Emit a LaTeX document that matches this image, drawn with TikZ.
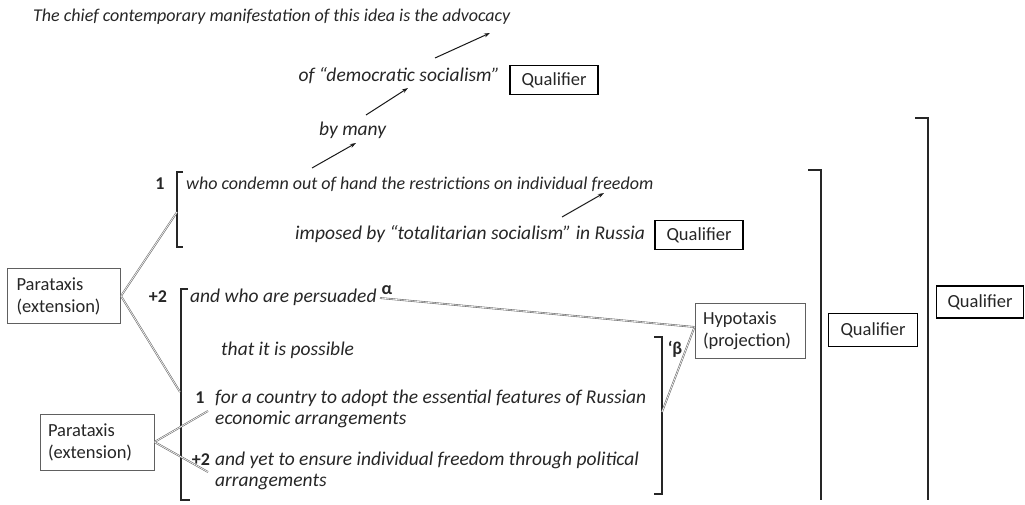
\documentclass[tikz,border=0pt]{standalone}
\usepackage{fontspec}
\setmainfont{Carlito}
\usetikzlibrary{arrows.meta}
\begin{document}
\begin{tikzpicture}[x=1pt,y=-1pt,
  txt/.style={font=\fontsize{19.5}{22}\selectfont\itshape, inner sep=0pt, anchor=west, text=black!85},
  txts/.style={txt, font=\fontsize{18}{21}\selectfont\itshape},
  num/.style={font=\fontsize{18}{21}\selectfont\bfseries, inner sep=0pt, text=black!85},
  qual/.style={draw=black, line width=1.1pt, font=\fontsize{18.5}{21}\selectfont, text=black!85, inner sep=0pt, minimum width=88pt, minimum height=29pt},
  taxis/.style={draw=gray!75!black, line width=1pt, font=\fontsize{18.5}{22}\selectfont, text=black!85, inner sep=0pt, align=left, minimum height=55pt},
  brk/.style={line width=1.4pt, draw=black!85},
  dbl/.style={draw=gray!85!black, double=white, double distance=0.6pt, line width=0.6pt},
  arr/.style={line width=1pt, draw=black!90, -{Stealth[length=6pt,width=4pt]}}
]
\useasboundingbox (0,0) rectangle (1025,505);

% top lines
\node[txts] (t1) at (33,17) {The chief contemporary manifestation of this idea is the advocacy};
\node[txt, anchor=east] (t2) at (500,76) {of “democratic socialism”};
\node[qual] (q1) at (554,80) {Qualifier};
\node[txt] (t3) at (319,130) {by many};

\coordinate (a1s) at (435,58); \coordinate (a1e) at (490,33);
\coordinate (a2s) at (366,115); \coordinate (a2e) at (408,88);
\coordinate (a3s) at (312,168); \coordinate (a3e) at (356,143);
\coordinate (a4s) at (562,217); \coordinate (a4e) at (604,193);
\draw[arr] (a1s) -- (a1e);
\draw[arr] (a2s) -- (a2e);
\draw[arr] (a3s) -- (a3e);
\draw[arr] (a4s) -- (a4e);

% first clause
\node[num] (n1) at (160,184) {1};
\draw[brk] (183,172) -- (177,172) -- (177,247) -- (183,247);
\coordinate (b1m) at (177,212);
\node[txts] (t4) at (186,184) {who condemn out of hand the restrictions on individual freedom};
\node[txt] (t5) at (295,234) {imposed by “totalitarian socialism” in Russia};
\node[qual] (q2) at (699,235) {Qualifier};

% parataxis 1
\node[taxis, text width=95pt, minimum width=113pt] (p1) at (64,296) {Parataxis\\(extension)};

% second clause
\node[num] (n2) at (158,297) {+2};
\draw[brk] (188,289) -- (181,289) -- (181,500) -- (190,500);
\coordinate (b2m) at (180,392);
\node[txt] (t6) at (190,297) {and who are persuaded};
\node[num] (al) at (387,290) {α};
\coordinate (als) at (380,298);
\node[txt] (t7) at (221,350) {that it is possible};
\node[num] (n3) at (200,398) {1};
\node[txt] (t8) at (215,398) {for a country to adopt the essential features of Russian};
\node[txt] (t9) at (215,419) {economic arrangements};
\node[num] (n4) at (201,460) {+2};
\node[txt] (t10) at (215,460) {and yet to ensure individual freedom through political};
\node[txt] (t11) at (215,482) {arrangements};

% parataxis 2
\node[taxis, text width=98pt, minimum width=114pt, minimum height=56pt] (p2) at (97,442) {Parataxis\\(extension)};
\coordinate (p2a) at (208,411);
\coordinate (p2b) at (208,472);

% beta bracket
\draw[brk] (654,337) -- (662,337) -- (662,494) -- (654,494);
\coordinate (b3m) at (662,412);
\node[num] (be) at (675,349) {‘β};

% hypotaxis
\node[taxis, text width=94pt, minimum width=110pt] (h) at (750,331) {Hypotaxis\\(projection)};

% right brackets
\draw[brk] (808,170) -- (821,170) -- (821,500);
\node[qual, minimum width=89pt, minimum height=33pt] (q3) at (873,330) {Qualifier};
\draw[brk] (915,118) -- (928,118) -- (928,500);
\node[qual, minimum width=87pt, minimum height=32pt] (q4) at (980,302) {Qualifier};

% connectors
\draw[dbl] (p1.east) -- (b1m);
\draw[dbl] (p1.east) -- (b2m);
\draw[dbl] (als) -- ([yshift=4pt]h.west);
\draw[dbl] (b3m) -- ([yshift=4pt]h.west);
\draw[dbl] (p2.east) -- (p2a);
\draw[dbl] (p2.east) -- (p2b);
\end{tikzpicture}
\end{document}
